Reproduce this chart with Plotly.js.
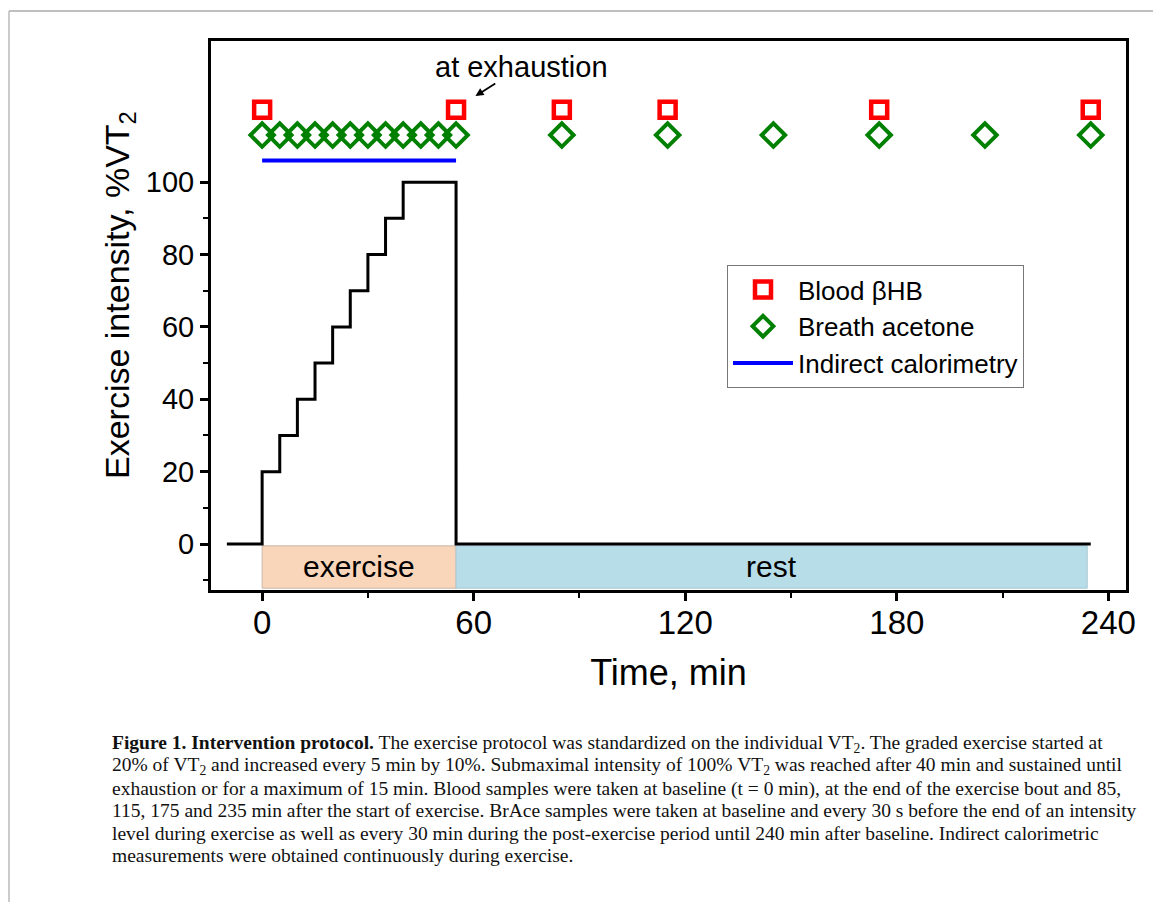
<!DOCTYPE html>
<html>
<head>
<meta charset="utf-8">
<script src="https://cdn.plot.ly/plotly-3.0.1.min.js"></script>
<style>html,body{margin:0;padding:0;background:#fff;}#chart{width:1153px;height:902px;}</style>
</head>
<body>
<div id="chart"></div>
<script>
// ---- data ----
var stepTime = [-10, 0, 5, 10, 15, 20, 25, 30, 35, 40, 55, 235];
var stepIntensity = [0, 20, 30, 40, 50, 60, 70, 80, 90, 100, 0, 0];
var bloodTime = [0, 55, 85, 115, 175, 235];
var bloodLevel = [120, 120, 120, 120, 120, 120];
var breathTime = [0, 5, 10, 15, 20, 25, 30, 35, 40, 45, 50, 55, 85, 115, 145, 175, 205, 235];
var breathLevel = [113, 113, 113, 113, 113, 113, 113, 113, 113, 113, 113, 113, 113, 113, 113, 113, 113, 113];
var caloTime = [0, 55];
var caloLevel = [106, 106];
var phaseNames = ["exercise", "rest"];
var phaseStart = [0, 55];
var phaseEnd = [55, 234];
var xTickVals = [0, 60, 120, 180, 240];
var yTickVals = [0, 20, 40, 60, 80, 100];
var yTitle = "Exercise intensity, %VT<sub>2</sub>";
var xTitle = "Time, min";
var captionLines = [
  "<b>Figure 1. Intervention protocol.</b> The exercise protocol was standardized on the individual VT<sub>2</sub>. The graded exercise started at",
  "20% of VT<sub>2</sub> and increased every 5 min by 10%. Submaximal intensity of 100% VT<sub>2</sub> was reached after 40 min and sustained until",
  "exhaustion or for a maximum of 15 min. Blood samples were taken at baseline (t = 0 min), at the end of the exercise bout and 85,",
  "115, 175 and 235 min after the start of exercise. BrAce samples were taken at baseline and every 30 s before the end of an intensity",
  "level during exercise as well as every 30 min during the post-exercise period until 240 min after baseline. Indirect calorimetric",
  "measurements were obtained continuously during exercise."
];

// ---- layout helpers ----
var W = 1153, H = 902, ML = 211, MR = 27, MT = 41, MB = 312;
var PW = W - ML - MR, PH = H - MT - MB;
function px2x(px) { return (px - ML) / PW; }
function py2y(py) { return (H - MB - py) / PH; }
var SANS = "Liberation Sans, Arial, sans-serif";
var SERIF = "Liberation Serif, Times New Roman, serif";

var traces = [
  {x: stepTime, y: stepIntensity, mode: "lines", line: {shape: "hv", color: "#000", width: 3}, showlegend: false, hoverinfo: "skip"},
  {x: bloodTime, y: bloodLevel, mode: "markers", name: "Blood βHB",
   marker: {symbol: "square-open", size: 16, color: "#ff0000", line: {width: 4.5, color: "#ff0000"}}},
  {x: breathTime, y: breathLevel, mode: "markers", name: "Breath acetone",
   marker: {symbol: "diamond-open", size: 18, color: "#008000", line: {width: 4, color: "#008000"}}},
  {x: caloTime, y: caloLevel, mode: "lines", name: "Indirect calorimetry",
   line: {color: "#0000ff", width: 4}}
];

var shapes = [
  {type: "rect", xref: "x", yref: "y", x0: phaseStart[0], x1: phaseEnd[0], y0: -12.2, y1: -0.5, layer: "below",
   fillcolor: "#f9d5ba", line: {color: "#c9b7a8", width: 1}},
  {type: "rect", xref: "x", yref: "y", x0: phaseStart[1], x1: phaseEnd[1], y0: -12.2, y1: -0.5, layer: "below",
   fillcolor: "#b7dde8", line: {color: "#a9c9d3", width: 1}},
  {type: "line", xref: "paper", yref: "paper", x0: px2x(9), x1: px2x(1160), y0: py2y(11), y1: py2y(11), line: {color: "#aaaaaa", width: 1.5}},
  {type: "line", xref: "paper", yref: "paper", x0: px2x(9), x1: px2x(9), y0: py2y(11), y1: py2y(910), line: {color: "#bbbbbb", width: 1.5}}
];

var annotations = [];
for (var i = 0; i < phaseNames.length; i++) {
  annotations.push({x: (phaseStart[i] + phaseEnd[i]) / 2, y: -6.3, xref: "x", yref: "y", text: phaseNames[i],
    showarrow: false, font: {family: SANS, size: 30, color: "#000"}});
}
// "at exhaustion" label with its arrow pointing at the end-of-exercise blood sample
annotations.push({x: 60.5, y: 123.8, xref: "x", yref: "y", text: "at exhaustion", showarrow: true, ax: 46, ay: -29,
  arrowhead: 2, arrowsize: 0.9, arrowwidth: 1.8, arrowcolor: "#000", borderpad: 0,
  font: {family: SANS, size: 29, color: "#000"}});
// y axis title (placed to match the reference offset)
annotations.push({x: px2x(119), y: py2y(295), xref: "paper", yref: "paper", xanchor: "center", yanchor: "middle",
  text: yTitle, textangle: -90,
  showarrow: false, font: {family: SANS, size: 34, color: "#000"}});
var baselines = [750, 772, 795, 816, 839, 861];
for (var k = 0; k < captionLines.length; k++) {
  annotations.push({x: px2x(110), y: py2y(baselines[k] - 6), xref: "paper", yref: "paper", xanchor: "left", yanchor: "middle",
    text: captionLines[k], showarrow: false, align: "left", font: {family: SERIF, size: 19.5, color: "#111"}});
}

var layout = {
  width: W, height: H,
  margin: {l: ML, r: MR, t: MT, b: MB},
  paper_bgcolor: "#fff", plot_bgcolor: "#fff",
  font: {family: SANS, color: "#000"},
  showlegend: true,
  legend: {x: px2x(727), y: py2y(265), xanchor: "left", yanchor: "top", bgcolor: "#fff",
    bordercolor: "#777", borderwidth: 1, font: {family: SANS, size: 26, color: "#000"}, itemwidth: 60,
    tracegroupgap: 0},
  xaxis: {range: [-14.5, 245], tickvals: xTickVals, ticks: "outside", ticklen: 8, tickwidth: 3, tickcolor: "#000",
    showline: true, linewidth: 3, linecolor: "#000", mirror: true, showgrid: false, zeroline: false,
    tickfont: {family: SANS, size: 33, color: "#000"}, ticklabelstandoff: -7,
    minor: {dtick: 30, tick0: 30, ticks: "outside", ticklen: 5, tickwidth: 2, tickcolor: "#000", showgrid: false},
    title: {text: xTitle, font: {family: SANS, size: 36, color: "#000"}, standoff: 21}, automargin: true},
  yaxis: {range: [-12.7, 139], tickvals: yTickVals, ticks: "outside", ticklen: 8, tickwidth: 3, tickcolor: "#000",
    showline: true, linewidth: 3, linecolor: "#000", mirror: true, showgrid: false, zeroline: false,
    tickfont: {family: SANS, size: 29, color: "#000"},
    minor: {tickvals: [-10, 10, 30, 50, 70, 90], ticks: "outside", ticklen: 5, tickwidth: 2, tickcolor: "#000", showgrid: false},
    automargin: false},
  shapes: shapes,
  annotations: annotations
};

Plotly.newPlot("chart", traces, layout, {displayModeBar: false, staticPlot: true});
</script>
</body>
</html>
